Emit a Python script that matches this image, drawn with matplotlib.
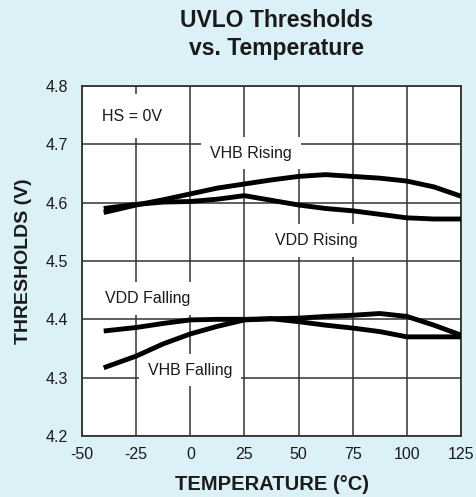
import matplotlib
matplotlib.use('Agg')
import matplotlib.pyplot as plt
import numpy as np

plt.rcParams['font.family'] = ['Liberation Sans', 'DejaVu Sans']

# Temperatures (°C) at which the curves were read
temp = [-40, -25, -12.5, 0, 12.5, 25, 37.5, 50, 62.5, 75, 87.5, 100, 112.5, 125]

# Threshold readings (V)
vhb_rising = [4.583, 4.596, 4.605, 4.615, 4.625, 4.632, 4.639, 4.645, 4.648, 4.645, 4.642, 4.637, 4.627, 4.611]
vdd_rising = [4.590, 4.597, 4.601, 4.602, 4.606, 4.612, 4.604, 4.596, 4.590, 4.586, 4.580, 4.574, 4.572, 4.572]
vdd_falling = [4.380, 4.386, 4.393, 4.399, 4.400, 4.400, 4.401, 4.402, 4.405, 4.407, 4.410, 4.405, 4.390, 4.373]
vhb_falling = [4.317, 4.337, 4.358, 4.375, 4.388, 4.399, 4.401, 4.396, 4.390, 4.385, 4.379, 4.370, 4.370, 4.370]

xticks = [-50, -25, 0, 25, 50, 75, 100, 125]
yticks = [4.2, 4.3, 4.4, 4.5, 4.6, 4.7, 4.8]

bg = '#dcf0f8'
fig = plt.figure(figsize=(4.77, 4.97), dpi=100, facecolor=bg)
ax = fig.add_axes([0.172, 0.1227, 0.7945, 0.7043])
ax.set_facecolor('white')

for y in [vhb_rising, vdd_rising, vdd_falling, vhb_falling]:
    ax.plot(temp, y, color='black', lw=3.5, solid_capstyle='butt', zorder=5)

ax.set_xlim(-50, 125)
ax.set_ylim(4.2, 4.8)
ax.set_xticks(xticks)
ax.set_yticks(yticks)
ax.set_xticklabels([str(t) for t in xticks])
ax.set_yticklabels([f'{t:.1f}' for t in yticks])
ax.tick_params(length=0, labelsize=11.5, colors='#1a1a1a')
ax.tick_params(axis='y', pad=10)
ax.tick_params(axis='x', pad=8)
ax.grid(True, color='#333333', lw=1.1)
ax.set_axisbelow(True)
for s in ax.spines.values():
    s.set_color('#333333')
    s.set_linewidth(1.3)

box = dict(facecolor='white', edgecolor='none', boxstyle='square,pad=0.55')
lab = dict(fontsize=11.5, color='#1a1a1a', ha='center', va='center', bbox=box, zorder=3)
ax.text(-27, 4.748, 'HS = 0V', **{**lab, 'bbox': dict(facecolor='white', edgecolor='none', boxstyle='square,pad=0.9')})
ax.text(28, 4.685, 'VHB Rising', **lab)
ax.text(58, 4.535, 'VDD Rising', **lab)
ax.text(-19.5, 4.436, 'VDD Falling', **lab)
ax.text(0, 4.313, 'VHB Falling', **lab)

fig.text(0.58, 1 - 9 / 497, 'UVLO Thresholds\nvs. Temperature', ha='center', va='top',
         fontsize=16.5, fontweight='bold', color='#1a1a1a', linespacing=1.25)
ax.set_xlabel('TEMPERATURE (°C)', fontsize=14.5, fontweight='bold', color='#1a1a1a', labelpad=9)
ax.set_ylabel('THRESHOLDS (V)', fontsize=14, fontweight='bold', color='#1a1a1a', labelpad=10)

fig.savefig('out.png', dpi=100, facecolor=bg)
